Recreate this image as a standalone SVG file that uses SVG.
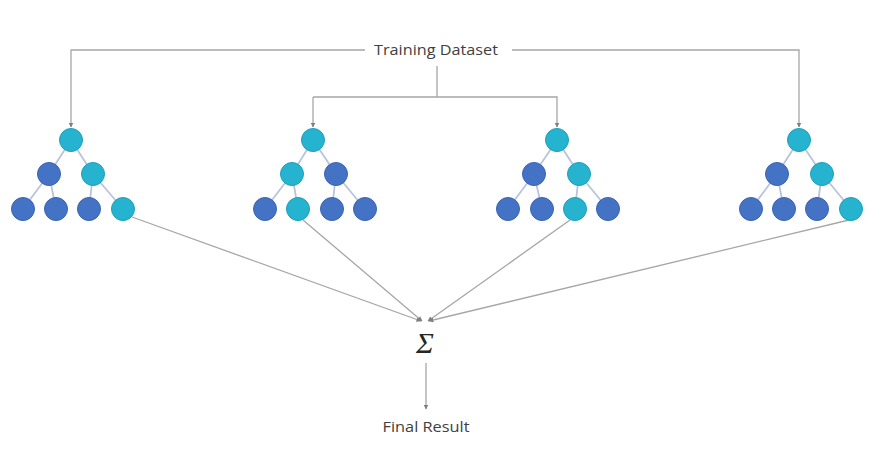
<svg xmlns="http://www.w3.org/2000/svg" width="884" height="463" viewBox="0 0 884 463">
<defs>
<marker id="ah" viewBox="0 0 10 10" refX="9" refY="5" markerWidth="5" markerHeight="5" orient="auto" markerUnits="userSpaceOnUse">
<path d="M0,0 L10,5 L0,10 z" fill="#7f7f7f"/>
</marker>
<style>
.conn{fill:none;stroke:#a6a6a6;stroke-width:1.3}
.edge{stroke:#b8c4dc;stroke-width:1.8}
.t{fill:#26b3cf;stroke:#1f9fba;stroke-width:1}
.b{fill:#4472c4;stroke:#3a64b0;stroke-width:1}
.lbl{font-family:"Open Sans","Liberation Sans",Arial,sans-serif;font-size:15px;fill:#404040}
</style>
</defs>
<rect width="884" height="463" fill="#ffffff"/>
<g id="connectors">
<polyline class="conn" points="365,50 71,50 71,127" marker-end="url(#ah)"/>
<polyline class="conn" points="512,50 799,50 799,127" marker-end="url(#ah)"/>
<line class="conn" x1="437" y1="66" x2="437" y2="97"/>
<polyline class="conn" points="313,97 557,97 557,127" marker-end="url(#ah)"/>
<line class="conn" x1="313" y1="97" x2="313" y2="127" marker-end="url(#ah)"/>
<line class="conn" x1="132" y1="217" x2="421" y2="321" marker-end="url(#ah)"/>
<line class="conn" x1="303" y1="220" x2="422" y2="321" marker-end="url(#ah)"/>
<line class="conn" x1="570" y1="220" x2="428" y2="321" marker-end="url(#ah)"/>
<line class="conn" x1="849" y1="220" x2="429" y2="321" marker-end="url(#ah)"/>
<line class="conn" x1="426" y1="363" x2="426" y2="409" marker-end="url(#ah)"/>
</g>
<g id="tree1">
<line class="edge" x1="71" y1="140" x2="49" y2="174"/><line class="edge" x1="71" y1="140" x2="93" y2="174"/>
<line class="edge" x1="49" y1="174" x2="23" y2="209"/><line class="edge" x1="49" y1="174" x2="56" y2="209"/>
<line class="edge" x1="93" y1="174" x2="89" y2="209"/><line class="edge" x1="93" y1="174" x2="123" y2="209"/>
<circle class="t" cx="71" cy="140" r="11.5"/>
<circle class="b" cx="49" cy="174" r="11.5"/><circle class="t" cx="93" cy="174" r="11.5"/>
<circle class="b" cx="23" cy="209" r="11.5"/><circle class="b" cx="56" cy="209" r="11.5"/><circle class="b" cx="89" cy="209" r="11.5"/><circle class="t" cx="123" cy="209" r="11.5"/>
</g>
<g id="tree2">
<line class="edge" x1="313" y1="140" x2="292" y2="174"/><line class="edge" x1="313" y1="140" x2="336" y2="174"/>
<line class="edge" x1="292" y1="174" x2="265" y2="209"/><line class="edge" x1="292" y1="174" x2="298" y2="209"/>
<line class="edge" x1="336" y1="174" x2="332" y2="209"/><line class="edge" x1="336" y1="174" x2="365" y2="209"/>
<circle class="t" cx="313" cy="140" r="11.5"/>
<circle class="t" cx="292" cy="174" r="11.5"/><circle class="b" cx="336" cy="174" r="11.5"/>
<circle class="b" cx="265" cy="209" r="11.5"/><circle class="t" cx="298" cy="209" r="11.5"/><circle class="b" cx="332" cy="209" r="11.5"/><circle class="b" cx="365" cy="209" r="11.5"/>
</g>
<g id="tree3">
<line class="edge" x1="557" y1="140" x2="534" y2="174"/><line class="edge" x1="557" y1="140" x2="579" y2="174"/>
<line class="edge" x1="534" y1="174" x2="508" y2="209"/><line class="edge" x1="534" y1="174" x2="542" y2="209"/>
<line class="edge" x1="579" y1="174" x2="575" y2="209"/><line class="edge" x1="579" y1="174" x2="608" y2="209"/>
<circle class="t" cx="557" cy="140" r="11.5"/>
<circle class="b" cx="534" cy="174" r="11.5"/><circle class="t" cx="579" cy="174" r="11.5"/>
<circle class="b" cx="508" cy="209" r="11.5"/><circle class="b" cx="542" cy="209" r="11.5"/><circle class="t" cx="575" cy="209" r="11.5"/><circle class="b" cx="608" cy="209" r="11.5"/>
</g>
<g id="tree4">
<line class="edge" x1="799" y1="140" x2="777" y2="174"/><line class="edge" x1="799" y1="140" x2="822" y2="174"/>
<line class="edge" x1="777" y1="174" x2="751" y2="209"/><line class="edge" x1="777" y1="174" x2="784" y2="209"/>
<line class="edge" x1="822" y1="174" x2="817" y2="209"/><line class="edge" x1="822" y1="174" x2="851" y2="209"/>
<circle class="t" cx="799" cy="140" r="11.5"/>
<circle class="b" cx="777" cy="174" r="11.5"/><circle class="t" cx="822" cy="174" r="11.5"/>
<circle class="b" cx="751" cy="209" r="11.5"/><circle class="b" cx="784" cy="209" r="11.5"/><circle class="b" cx="817" cy="209" r="11.5"/><circle class="t" cx="851" cy="209" r="11.5"/>
</g>
<g id="training-dataset">
<text class="lbl" x="436" y="55" text-anchor="middle" textLength="124" lengthAdjust="spacingAndGlyphs">Training Dataset</text>
</g>
<g id="sum">
<text x="425" y="353" text-anchor="middle" font-family="'Liberation Serif','Times New Roman',serif" font-style="italic" font-size="30" fill="#262626">Σ</text>
</g>
<g id="final-result">
<text class="lbl" x="426" y="432" text-anchor="middle" textLength="87" lengthAdjust="spacingAndGlyphs">Final Result</text>
</g>
</svg>
